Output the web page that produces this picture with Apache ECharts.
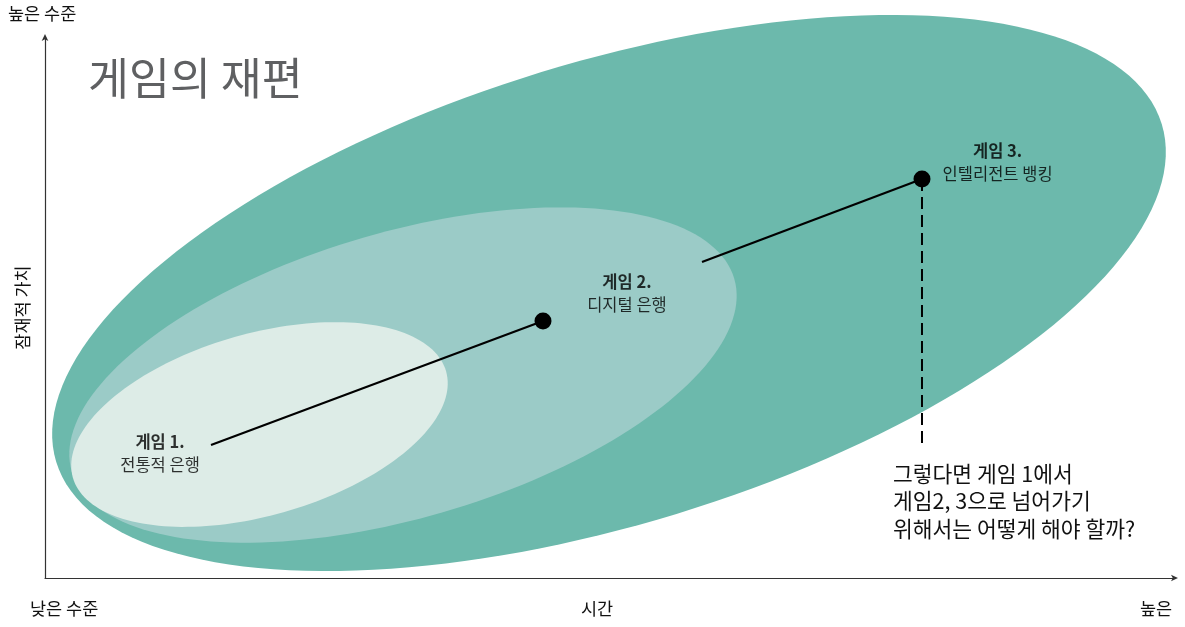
<!DOCTYPE html>
<html><head><meta charset="utf-8">
<script src="https://cdn.jsdelivr.net/npm/echarts@6/dist/echarts.min.js"></script>
<style>html,body{margin:0;padding:0;background:#fff}#c{width:1185px;height:627px}</style>
</head><body><div id="c"></div>
<script>
// ---- data ----
const ellipseNames = ['게임 3 영역', '게임 2 영역', '게임 1 영역'];
// [centerX, centerY, semiMajor (x units), semiMinor (x units), angle deg]
const ellipseValues = [
  [49.91, 52.68, 51.15, 20.44, 17.0],
  [31.68, 37.52, 30.53, 12.65, 16.2],
  [18.98, 28.37, 17.17, 8.05, 15.9]
];
const ellipseColors = ['#6cb9ac', '#9bcbc7', '#ddece7'];
const gamePoints = [[44.07, 47.50], [77.61, 73.75]];
const pathOne = [[14.69, 24.58], [44.07, 47.50]];
const pathTwo = [[58.14, 58.41], [77.61, 73.75]];
const dropLine = [[77.61, 73.75], [77.61, 24.21]];
const gameTitles = ['게임 1.', '게임 2.', '게임 3.'];
const gameSubtitles = ['전통적 은행', '디지털 은행', '인텔리전트 뱅킹'];
const gameLabelPos = [[10.18, 23.11], [51.5, 52.68], [84.3, 76.89]];
const xTickLabels = ['낮은 수준', '시간', '높은'];
const yTickLabels = ['높은 수준'];
const yAxisName = '잠재적 가치';
const titleText = '게임의 재편';
const questionText = ['그렇다면 게임 1에서', '게임2, 3으로 넘어가기', '위해서는 어떻게 해야 할까?'];

const FONT = '"Noto Sans CJK KR", "Noto Sans", sans-serif';
const chart = echarts.init(document.getElementById('c'));

const ellipseData = ellipseValues.map((v, i) => ({ name: ellipseNames[i], value: v, itemStyle: { color: ellipseColors[i] } }));

chart.setOption({
  animation: false,
  textStyle: { fontFamily: FONT },
  title: {
    text: titleText, left: 83, top: 51,
    textStyle: { fontFamily: FONT, fontSize: 44.5, fontWeight: 'normal', color: '#5f6062' }
  },
  grid: { left: 45, right: 10, top: 37, bottom: 49 },
  xAxis: {
    type: 'value', min: 0, max: 100,
    splitLine: { show: false }, axisTick: { show: false }, axisLabel: { show: false },
    axisLine: { lineStyle: { color: '#333', width: 1.2 }, symbol: ['none', 'arrow'], symbolSize: [5, 7], symbolOffset: [0, 3] }
  },
  yAxis: {
    type: 'value', min: 0, max: 100,
    splitLine: { show: false }, axisTick: { show: false }, axisLabel: { show: false },
    name: yAxisName, nameLocation: 'middle', nameRotate: 90, nameGap: 14,
    nameTextStyle: { fontFamily: FONT, fontSize: 17.5, color: '#111' },
    axisLine: { lineStyle: { color: '#333', width: 1.2 }, symbol: ['none', 'arrow'], symbolSize: [5, 7], symbolOffset: [0, 3] }
  },
  graphic: [
    { type: 'text', left: 8, top: 5, style: { text: yTickLabels[0], font: '17.5px ' + FONT, fill: '#111' } },
    { type: 'text', left: 30, top: 600, style: { text: xTickLabels[0], font: '17.5px ' + FONT, fill: '#111' } },
    { type: 'text', left: 581, top: 600, style: { text: xTickLabels[1], font: '17.5px ' + FONT, fill: '#111' } },
    { type: 'text', left: 1140, top: 600, style: { text: xTickLabels[2], font: '17.5px ' + FONT, fill: '#111' } },
    { type: 'text', left: 893, top: 460, style: { text: questionText.join('\n'), font: '21.5px ' + FONT, fill: '#111', lineHeight: 27.5 } }
  ],
  series: [
    {
      type: 'custom', name: 'ellipses', clip: false, z: 1,
      data: ellipseData,
      renderItem: function (params, api) {
        const c = api.coord([api.value(0), api.value(1)]);
        const a = api.size([api.value(2), 0])[0];
        const b = api.size([api.value(3), 0])[0];
        const th = api.value(4) * Math.PI / 180;
        const pts = [];
        for (let k = 0; k < 180; k++) {
          const t = k / 180 * Math.PI * 2;
          pts.push([
            c[0] + a * Math.cos(t) * Math.cos(th) - b * Math.sin(t) * Math.sin(th),
            c[1] - (a * Math.cos(t) * Math.sin(th) + b * Math.sin(t) * Math.cos(th))
          ]);
        }
        return { type: 'polygon', shape: { points: pts }, style: { fill: api.visual('color') } };
      }
    },
    { type: 'line', data: pathOne, symbol: 'none', z: 3, lineStyle: { color: '#000', width: 2.2 } },
    { type: 'line', data: pathTwo, symbol: 'none', z: 3, lineStyle: { color: '#000', width: 2.2 } },
    { type: 'line', data: dropLine, symbol: 'none', z: 3, lineStyle: { color: '#000', width: 2, type: [12, 6] } },
    { type: 'scatter', data: gamePoints, symbolSize: 17, z: 4, itemStyle: { color: '#000', opacity: 1 } },
    {
      type: 'scatter', z: 5, symbolSize: 0,
      data: gameLabelPos.map((p, i) => ({ value: p, t: gameTitles[i], s: gameSubtitles[i] })),
      label: {
        show: true, position: 'inside',
        formatter: function (p) { return '{b|' + p.data.t + '}\n{n|' + p.data.s + '}'; },
        rich: {
          b: { fontFamily: FONT, fontSize: 16.5, fontWeight: 'bold', color: '#000', lineHeight: 23, align: 'center' },
          n: { fontFamily: FONT, fontSize: 16.5, color: '#000', lineHeight: 23, align: 'center' }
        }
      }
    }
  ]
});
</script></body></html>
